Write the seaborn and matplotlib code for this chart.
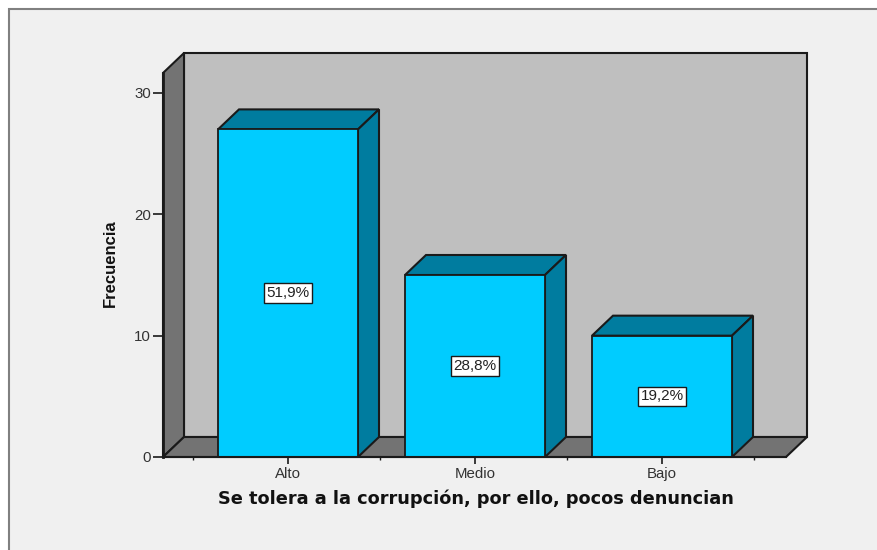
import matplotlib
matplotlib.use("Agg")
import matplotlib.pyplot as plt
from matplotlib.patches import Polygon, Rectangle
import pandas as pd
import seaborn as sns

# Datos
categorias = ["Alto", "Medio", "Bajo"]
frecuencias = [27, 15, 10]
porcentajes = ["51,9%", "28,8%", "19,2%"]
yticks = [0, 10, 20, 30]

data = pd.DataFrame({"categoria": categorias, "frecuencia": frecuencias})

W, H = 877, 550
CYAN = "#00CCFF"
CYAN_OSC = "#007C9F"
GRIS_PARED = "#BFBFBF"
GRIS_OSC = "#737373"
FONDO = "#F0F0F0"
LINEA = "#1A1A1A"

sns.set_theme(style="white")
plt.rcParams["font.family"] = ["Liberation Sans", "DejaVu Sans"]

fig = plt.figure(figsize=(W / 100, H / 100), dpi=100, facecolor="white")
fig.add_artist(Rectangle((9 / W, -0.01), 1.01, 1 - 9 / H + 0.01, transform=fig.transFigure,
                         facecolor=FONDO, edgecolor="#808080", linewidth=1.5, zorder=-1))

# el eje cubre solo el plano frontal, la profundidad se dibuja fuera
ax = fig.add_axes([163 / W, 1 - 457 / H, (786 - 163) / W, (457 - 73) / H])
ax.patch.set_alpha(0)

sns.barplot(data=data, x="categoria", y="frecuencia", color=CYAN, saturation=1,
            width=140 / 187, edgecolor=LINEA, linewidth=1.3, ax=ax, zorder=5)

ax.set_xlim((163 - 288) / 187, (786 - 288) / 187)
ax.set_ylim(0, (457 - 73) / (364 / 30))
dx = 21 / 187
dy = 20 / (364 / 30)
x0, x1 = ax.get_xlim()
y0, y1 = ax.get_ylim()


def cara(puntos, color, z):
    ax.add_patch(Polygon(puntos, closed=True, facecolor=color, edgecolor=LINEA,
                         linewidth=1.5, clip_on=False, zorder=z))


# paredes y suelo
cara([(x0 + dx, y0 + dy), (x1 + dx, y0 + dy), (x1 + dx, y1 + dy), (x0 + dx, y1 + dy)], GRIS_PARED, 1)
cara([(x0, y0), (x0 + dx, y0 + dy), (x0 + dx, y1 + dy), (x0, y1)], GRIS_OSC, 2)
cara([(x0, y0), (x1, y0), (x1 + dx, y0 + dy), (x0 + dx, y0 + dy)], GRIS_OSC, 2)

# caras superior y lateral de cada barra
for barra, pct in zip(ax.patches[:3], porcentajes):
    xa = barra.get_x()
    xb = xa + barra.get_width()
    h = barra.get_height()
    cara([(xa, h), (xb, h), (xb + dx, h + dy), (xa + dx, h + dy)], CYAN_OSC, 4)
    cara([(xb, 0), (xb + dx, dy), (xb + dx, h + dy), (xb, h)], CYAN_OSC, 4)
    ax.text(xa + barra.get_width() / 2, h / 2, pct, ha="center", va="center",
            fontsize=11, color="#222222", zorder=6,
            bbox=dict(boxstyle="square,pad=0.18", facecolor="white", edgecolor=LINEA, linewidth=1))

sns.despine(ax=ax, top=True, right=True)
ax.spines["left"].set(color=LINEA, linewidth=2, zorder=7)
ax.spines["bottom"].set(color=LINEA, linewidth=1.5, zorder=7)

ax.set_yticks(yticks)
ax.set_xticks(range(len(categorias)), categorias)
ax.set_xticks([-0.51, 0.49, 1.49, 2.49], minor=True)
ax.tick_params(axis="y", which="major", left=True, length=7, width=1.2, color=LINEA,
               labelsize=10.8, labelcolor="#333333", pad=1.5)
ax.tick_params(axis="x", which="major", bottom=True, length=5, width=1.2, color=LINEA,
               labelsize=10.8, labelcolor="#333333", pad=2)
ax.tick_params(axis="x", which="minor", bottom=True, length=2, width=1, color=LINEA)

ax.set_xlabel("")
ax.set_ylabel("")
fig.text(475.5 / W, 1 - 499 / H, "Se tolera a la corrupción, por ello, pocos denuncian",
         ha="center", va="center", fontsize=12.8, fontweight="bold", color="#111111",
         family=["DejaVu Sans"])
fig.text(110.5 / W, 1 - 263 / H, "Frecuencia", ha="center", va="center", rotation=90,
         fontsize=12, fontweight="bold", color="#111111")

fig.savefig("out.png", dpi=100, facecolor="white")
